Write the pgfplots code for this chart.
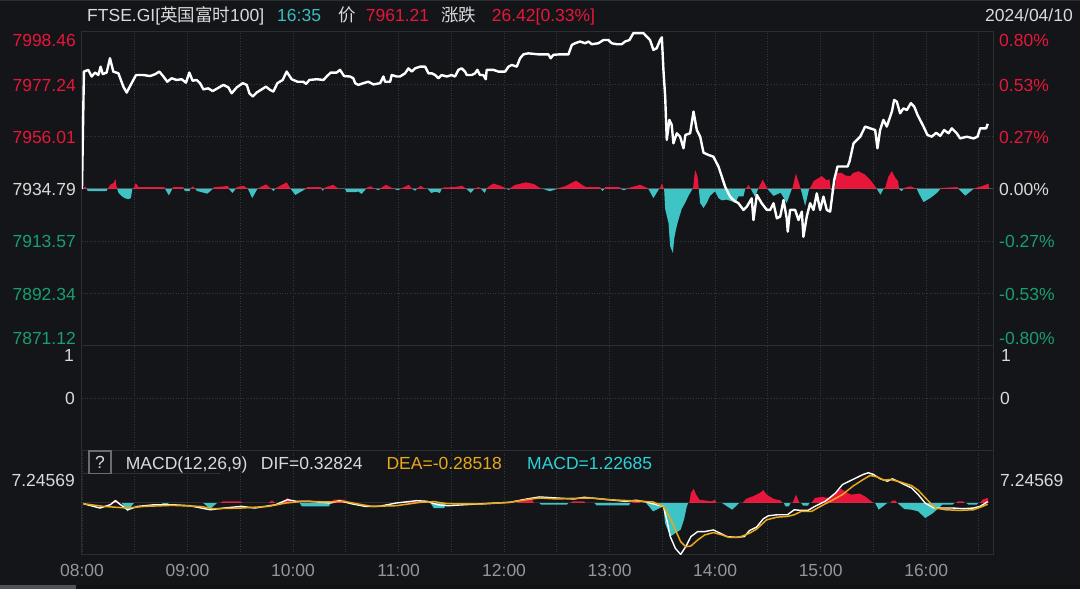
\documentclass[border=0pt]{standalone}
\usepackage{pgfplots}
\pgfplotsset{compat=1.18}
\usepackage{pgfplotstable}
\usepackage{fontspec}
\setmainfont{Liberation Sans}
\newfontfamily\cjk{Noto Sans CJK SC}

\definecolor{bg}{RGB}{19,21,25}
\definecolor{frame}{RGB}{42,45,50}
\definecolor{gridc}{RGB}{52,55,61}
\definecolor{zeroc}{RGB}{72,76,82}
\definecolor{hred}{RGB}{232,22,58}
\definecolor{hgreen}{RGB}{24,158,112}
\definecolor{hteal}{RGB}{62,196,196}
\definecolor{tealtxt}{RGB}{58,190,190}
\definecolor{cyantxt}{RGB}{40,212,215}
\definecolor{deac}{RGB}{232,168,24}
\definecolor{ltxt}{RGB}{218,218,218}
\definecolor{xlab}{RGB}{150,150,152}
\definecolor{qbox}{RGB}{105,108,114}

\newcommand\lab{\fontsize{17.5pt}{20pt}\selectfont}

% minutes since 08:00, index level
\pgfplotstableread{
m p
0 7934.79
1.1 7982.4
3.6 7983.1
5.5 7980.4
7.4 7982.0
9.3 7981.0
10.6 7984.4
11.8 7981.4
14.0 7982.0
15.9 7987.8
17.8 7982.4
20.7 7981.7
23.5 7976.3
25.4 7973.9
27.7 7977.0
30.7 7981.0
34.9 7981.0
38.7 7980.6
41.5 7981.3
44.0 7982.4
46.3 7980.4
48.5 7978.3
51.0 7979.7
53.8 7979.0
56.7 7979.3
59.1 7977.9
61.0 7982.0
62.9 7978.7
65.2 7979.0
67.1 7977.7
69.0 7975.2
71.8 7975.6
74.3 7974.5
77.0 7975.6
80.4 7977.0
83.2 7976.0
85.1 7973.6
88.0 7976.0
91.4 7977.7
93.7 7977.0
95.2 7973.6
97.1 7972.3
99.3 7973.9
102.2 7975.2
104.6 7976.3
106.9 7975.0
108.8 7974.3
111.1 7977.7
114.1 7979.0
116.4 7982.4
119.2 7979.3
122.5 7978.3
125.9 7978.3
127.4 7977.4
129.3 7979.0
133.5 7979.3
137.3 7979.0
139.1 7980.4
141.4 7982.0
144.8 7982.0
146.7 7983.1
149.0 7980.6
152.4 7980.4
154.3 7979.7
155.3 7977.7
157.1 7977.0
160.0 7977.7
162.8 7978.3
165.7 7977.2
169.5 7977.7
171.4 7980.4
172.3 7978.3
175.2 7978.3
176.1 7981.0
179.0 7980.4
180.8 7980.4
183.7 7981.7
185.6 7983.7
187.5 7982.4
189.4 7983.7
192.2 7984.4
195.1 7984.4
197.0 7981.7
198.9 7981.7
200.8 7981.0
202.6 7979.7
204.5 7981.0
207.4 7980.4
210.2 7981.0
212.1 7980.4
214.0 7983.1
215.9 7983.7
217.8 7982.4
218.8 7981.0
221.6 7981.0
223.5 7981.7
224.8 7983.1
226.3 7981.0
228.2 7981.0
229.6 7979.3
230.1 7983.1
233.9 7983.1
236.8 7982.4
240.6 7982.4
242.5 7984.4
244.4 7985.1
247.2 7984.4
249.1 7987.8
251.0 7989.4
253.8 7989.8
259.5 7989.4
265.2 7989.4
266.5 7987.8
268.0 7989.2
271.8 7989.4
276.6 7989.4
278.5 7993.2
280.4 7993.9
283.2 7994.6
286.1 7993.9
288.0 7994.6
289.8 7993.5
293.6 7993.9
296.5 7995.2
299.3 7995.2
301.2 7993.9
304.1 7993.5
306.9 7993.5
308.8 7994.6
311.3 7995.2
313.5 7998.0
319.2 7998.0
321.1 7996.6
323.0 7995.2
324.9 7991.2
326.8 7991.9
328.7 7995.2
329.7 7996.3
330.6 7983.1
331.6 7972.3
332.5 7954.7
334.0 7962.8
335.3 7960.8
336.3 7953.3
338.2 7957.4
340.1 7956.0
342.0 7951.3
343.1 7956.7
345.8 7957.4
347.7 7966.2
349.6 7958.7
351.5 7956.0
353.4 7949.5
356.2 7948.6
359.0 7947.9
361.9 7943.9
363.8 7939.8
365.7 7935.7
368.5 7931.7
370.4 7930.3
373.3 7929.0
376.1 7926.3
378.0 7927.6
380.8 7931.0
381.8 7922.2
383.7 7932.4
386.5 7929.0
389.4 7926.3
391.3 7926.3
393.2 7929.0
395.1 7922.9
397.0 7923.6
398.9 7930.3
400.7 7922.9
401.3 7917.5
402.6 7926.3
405.5 7926.3
407.4 7922.2
409.3 7925.6
410.2 7915.4
412.1 7923.6
414.0 7929.0
415.9 7926.3
417.8 7933.0
419.7 7926.3
421.6 7931.7
423.5 7926.3
425.4 7925.6
426.5 7931.7
427.7 7938.4
429.6 7943.9
432.0 7943.9
435.3 7943.9
436.4 7945.9
438.7 7953.3
442.5 7956.0
445.3 7960.1
448.1 7959.4
451.0 7958.7
452.3 7951.3
453.8 7958.7
455.7 7962.8
457.6 7960.1
459.5 7964.1
460.5 7966.2
461.8 7970.9
463.3 7970.2
465.2 7965.5
467.1 7967.5
469.0 7966.8
471.3 7969.6
473.2 7968.2
475.1 7964.8
478.5 7960.1
480.7 7956.7
483.2 7956.0
485.7 7957.6
488.0 7956.3
490.2 7958.7
492.7 7957.4
494.6 7959.4
497.4 7957.4
499.3 7955.3
503.1 7956.0
506.9 7955.3
509.2 7956.0
510.7 7959.4
514.1 7959.4
515.0 7961.21
}\price

% per-minute change bars, index points above/below 7934.79
\pgfplotstableread{
m h
0 0
0.8 0
1.8 1.1
2.8 0
3.2 -0.8
8 -0.9
14 -0.8
14.5 0
16.5 2.0
18.0 2.4
19.0 4.1
19.6 1.2
20.0 0
20.8 -1.6
22.4 -2.8
24.3 -3.7
26.3 -4.1
27.8 -3.7
28.6 0
29.2 0
30.6 2.4
32.1 0.8
46.8 0.8
47.3 0
49.4 -2.6
51.3 0
51.7 0.8
57.6 0.8
58.0 0
58.6 -0.9
61.2 -0.9
61.5 0
63.0 1.1
64.5 0
65.4 -0.8
71.3 -1.9
74.3 0
75.2 0.8
80.0 1.0
83.1 1.3
83.6 0
85.5 -1.6
87.4 0
88.0 0.8
92.0 1.3
94.4 0
96.8 -3.7
99.7 0
100.7 0.5
104.6 1.9
107.7 0
108.9 -0.9
109.7 0
110.5 0.5
113.5 1.6
116.4 2.7
118.7 0
121.3 -2.4
124.2 -1.2
127.1 0
128.1 0.8
136.0 0.8
136.3 0
136.9 -0.8
137.5 0
137.9 0.5
142.8 1.7
146.1 0
149.6 0
150.5 -1.3
155.5 -1.3
157.1 -1.0
159.0 -2.0
161.4 0
161.8 0.5
164 1.1
166.9 0
168.5 -0.5
169.6 0
170.2 0.5
172.8 1.7
177.5 0
179.8 -0.5
181 0
182 0.4
185.9 1.7
187.8 0
189.4 -0.7
190.4 0
190.8 0.4
192.7 1.3
195.1 0
196.6 0
198.6 -1.6
201 -1.1
203.5 -1.6
204.5 0
205.5 0.6
212 0.8
216.2 1.3
218.6 0
221.1 -1.6
223.1 0
224.1 0.4
225.5 0.8
227 0
229 -1.6
230 0
230.9 0.8
233.9 2.2
238 1.3
241.7 0
242.7 -0.4
243.3 0
243.7 0.4
246 1.6
252.5 2.7
257 2.0
261.3 0
262.3 0
266 -0.9
270.1 0
271.1 0.4
275 1.2
280.9 3.4
284.5 1.6
286.7 0.8
294.6 0.8
295 0
296 -0.8
297 0
297.5 0.8
306 0.8
306.3 0
308 -0.5
309.8 0
310.7 0.4
317.3 1.7
321.5 0.4
322.1 0
324.9 -3.7
328.1 0
328.7 0.4
329.7 2.2
331.0 0
331.6 -8.1
333.5 -13.8
334.4 -23.1
336.0 -26.0
336.7 -20.3
337.8 -16.2
339.1 -12.6
341.0 -8.1
342.9 -5.7
344.8 -2.8
346.7 -0.5
347.1 0
347.5 0.5
348.6 7.8
350.0 5.0
350.7 0
351.5 -5.7
353.4 -7.7
355.2 -5.7
357.1 -2.8
360.0 -0.9
361.9 -3.7
363.8 -4.6
366.6 -4.3
369.5 -5.0
371.4 -5.7
373.3 -3.0
376.1 -3.0
377.1 0
378 0.5
379 1.7
380.3 0
382.7 -3.2
384.4 0
384.6 0.3
387.1 3.8
389.8 0
393.2 -2.8
397.3 -1.5
400.7 -5.7
403.6 0
404 0.4
405.9 6.2
408.7 0
411.2 -6.9
413.4 0
414 0.4
416.0 3.2
420.6 5.2
423.5 3.5
425 4.0
425.8 0
427 -1.1
428.0 0
428.2 1.0
429.2 6.5
432.0 6.5
434 5.5
436.8 5.2
438.5 6.5
441.5 7.2
445.3 5.8
448.1 3.8
451.0 1.1
452.0 0
454.0 -2.3
455.7 0
456.7 0.5
458.5 5.0
460.5 7.2
462.5 4.5
464.0 3.2
464.6 0
466 -0.9
467.1 0
467.5 0.4
471 1.1
474.7 0
476 -2.0
478.5 -5.3
482.3 -3.7
486.1 -1.6
488.0 0
488.3 0.4
497.8 0.8
498.4 0
502.2 -2.7
506.9 0
507.9 0.4
512 1.2
515.4 2.2
515.8 0
}\hist

\pgfplotstableread{
m v
0.8 -0.17
10.2 -1.21
16.1 -0.41
19.0 0.56
21.9 -0.41
25.9 -1.62
31.7 -0.81
41.5 -0.41
51.3 -0.41
61.1 -0.65
72.9 -1.62
80.7 -1.21
90.5 -0.81
98.3 -1.21
110.1 -0.41
116.9 0.80
121.8 0.40
129.6 0.40
141.4 -0.01
146.3 0.56
153.1 -0.17
161.0 -0.81
168.8 -0.81
178.6 -0.01
190.4 0.56
196.2 0.40
202.1 -0.41
208.0 -0.65
227.6 -0.17
243.2 0.16
253.0 0.96
260.1 1.45
269.9 1.20
279.7 0.96
285.5 1.37
299.2 0.80
309.0 0.40
314.9 0.64
320.8 0.24
326.6 -0.41
330.6 -0.81
332.5 -4.03
334.5 -8.06
337.4 -10.87
340.4 -12.32
343.3 -10.47
346.2 -8.06
350.1 -6.85
354.1 -6.85
359.0 -6.45
362.9 -7.25
366.8 -8.06
371.7 -8.22
376.6 -8.06
379.5 -6.61
383.5 -5.80
387.4 -3.79
390.3 -3.06
395.2 -2.82
401.1 -2.82
405.0 -1.62
408.9 -1.78
412.8 -1.78
416.7 -0.81
422.6 0.40
428.5 2.41
432.4 4.42
438.3 5.63
444.2 6.84
447.1 7.25
450.0 6.84
453.9 5.79
457.9 5.23
460.8 5.79
463.7 5.23
467.6 4.42
471.6 3.62
475.5 2.01
479.4 -0.01
484.3 -1.21
489.2 -1.21
495.1 -1.21
500.9 -1.37
506.8 -1.21
510.7 -0.81
515.0 0.33
}\dif

\pgfplotstableread{
m v
0.8 -0.17
12.1 -0.81
25.9 -1.21
35.6 -0.81
51.3 -0.57
67.0 -0.81
74.8 -1.37
90.5 -1.21
106.1 -0.81
115.9 -0.01
125.7 0.40
141.4 0.24
149.2 0.40
157.1 -0.25
164.9 -0.81
178.6 -0.65
192.3 0.16
200.1 0.32
208.0 -0.17
227.6 -0.25
243.2 0.16
253.0 0.80
260.1 1.20
269.9 0.96
279.7 1.12
289.4 1.20
299.2 0.80
311.0 0.56
318.8 0.40
324.7 0.24
330.6 -0.81
334.5 -3.63
337.4 -6.45
340.4 -9.26
343.3 -10.47
346.2 -10.31
350.1 -8.86
354.1 -7.65
359.0 -7.09
363.9 -7.65
367.8 -8.22
373.7 -8.22
379.5 -7.25
383.5 -6.28
389.3 -4.03
395.2 -3.39
401.1 -3.22
405.0 -2.82
408.9 -2.02
414.8 -2.02
420.6 -0.65
426.5 0.64
432.4 2.01
438.3 4.02
444.2 5.63
448.1 6.60
452.0 6.27
455.9 5.47
459.8 5.63
465.7 4.99
471.6 4.18
475.5 3.05
481.4 0.40
485.3 -1.21
491.2 -1.62
499.0 -1.78
506.8 -1.62
510.7 -1.05
515.0 -0.29
}\dea

\pgfplotstableread{
m h
0 0
16.5 0
19.0 0.8
21.5 0
22.5 0
25.9 -2.0
29.5 0
45.4 0
47 -0.8
49.4 0
68.9 0
72.9 -1.4
76.8 0
78.7 0
80 0.4
90.5 0.4
91 0
106 0
108 0.6
110 0
113.5 0
116.9 1.2
120 0
123.8 0
125 -0.8
140.5 -0.8
141.2 0
141.6 0
143 0.8
149.2 0.8
150 0
182.5 0
184 0.4
194.3 0.4
195 0
198.2 0
200 -1.2
206 -1.2
207 0
247.1 0
249 0.8
256 0.8
257 0
260.1 0
261 -0.4
275.7 -0.4
276.5 0
277.7 0
279 0.4
285.5 0.4
286.3 0
291.4 0
292.5 -0.56
311 -0.56
311.8 0
312.9 0
314 0.8
316.9 0.8
317.5 0
320.8 0
324.7 -2.0
330.6 -0.8
331.5 -4.8
334.5 -8.05
337.4 -7.2
340.4 -6.4
342.3 -4.0
343.9 -0.8
344.7 0
345.3 0
346.2 2.4
347.8 3.4
349.2 2.0
351.1 0.8
358 0.4
359.9 0.8
360.8 0
363.9 0
369.7 -1.6
373.7 0
375.6 0
377.6 1.0
381.5 1.6
385.4 2.4
387.4 3.1
389.3 2.0
393.2 1.0
397.2 0.6
398.2 0
399.1 0
400 -0.8
402 -0.8
402.8 0
404 0
406 2.0
407.9 0
408.9 0
410 -0.6
412.8 -0.6
413.6 0
414.8 0
416.7 1.2
420.6 1.45
424.6 1.2
427.5 2.0
431.4 3.4
434.4 2.6
437.3 2.0
442.2 2.25
445.1 1.6
448.1 0.64
450 0
451 0
453 -1.6
457.9 0
459.8 0
460.5 0.56
462.8 0.56
463.3 0
463.7 0
467.6 -1.45
471.6 -1.6
475.5 -2.0
479.4 -3.6
483.3 -2.6
487.2 -1.2
489.2 -0.4
495 -0.4
496 0
497 0
498 0.4
501 0.4
502 0
502.9 0
504 -0.4
508.8 -0.4
509.5 0
510.7 0
512 0.8
515 1.23
515.5 0
}\mhist

\pgfplotsset{
  panel/.style={
    scale only axis, width=911pt, anchor=south west,
    xmin=0, xmax=518,
    axis line style={draw=frame, line width=1pt},
    xtick={30,60,...,510}, xticklabels={},
    yticklabels={},
    xmajorgrids, ymajorgrids,
    major grid style={draw=gridc, line width=0.9pt, dash pattern=on 1pt off 1.6pt},
    tick style={draw=none},
  },
}

\begin{document}
\begin{tikzpicture}[x=1pt,y=1pt]
\fill[bg] (0,0) rectangle (1080,589);
\useasboundingbox (0,0) rectangle (1080,589);
\draw[frame, line width=1pt] (0,588.5) -- (1080,588.5);
\fill[black!20!bg] (0,0) rectangle (1080,4);
\fill[qbox!70!bg] (0,0) rectangle (76,4);

% price panel
\begin{axis}[panel, at={(82pt,243pt)}, height=314pt,
  ymin=7871.12, ymax=7998.46,
  ytick={7892.34,7913.57,7956.01,7977.24},
  extra y ticks={7934.79}, extra y tick labels={},
  extra y tick style={major grid style={solid, draw=zeroc, line width=1pt}},
]
\addplot[fill=hred, draw=none] table[x=m, y expr={7934.79+max(\thisrow{h},0)}] {\hist};
\addplot[fill=hteal, draw=none] table[x=m, y expr={7934.79+min(\thisrow{h},0)}] {\hist};
\addplot[white, line width=2.4pt, line join=round] table[x=m, y=p] {\price};
\end{axis}

% empty middle panel
\begin{axis}[panel, at={(82pt,138pt)}, height=105pt,
  ymin=-1, ymax=1, ytick={0},
]
\end{axis}

% MACD panel
\begin{axis}[panel, at={(82pt,34pt)}, height=104pt,
  ymin=-12.46, ymax=12.46, ytick=\empty,
  xtick={0,30,...,510},
  xticklabels={08:00,,09:00,,10:00,,11:00,,12:00,,13:00,,14:00,,15:00,,16:00,},
  xticklabel style={text=xlab, font=\lab, anchor=center, yshift=-15pt},
]
\addplot[fill=hred, draw=none] table[x=m, y expr={max(\thisrow{h},0)}] {\mhist};
\addplot[fill=hteal, draw=none] table[x=m, y expr={min(\thisrow{h},0)}] {\mhist};
\addplot[white, line width=1.4pt, line join=round] table[x=m, y=v] {\dif};
\addplot[deac, line width=1.5pt, line join=round] table[x=m, y=v] {\dea};
\end{axis}

% header
\begin{scope}[every node/.style={inner sep=0pt, font=\lab}]
\node[anchor=base west, text=ltxt] at (87,567.3) {FTSE.GI[{\cjk 英国富时}100]};
\node[anchor=base west, text=tealtxt] at (277,567.3) {16:35};
\node[anchor=base west, text=ltxt] at (338.5,567.3) {\cjk 价};
\node[anchor=base west, text=hred] at (365.7,567.3) {7961.21};
\node[anchor=base west, text=ltxt] at (440.8,567.3) {\cjk 涨跌};
\node[anchor=base west, text=hred] at (491.7,567.3) {26.42[0.33\%]};
\node[anchor=base east, text=ltxt] at (1073,567.3) {2024/04/10};

% left scale
\node[anchor=base east, text=hred] at (76,542.8) {7998.46};
\node[anchor=base east, text=hred] at (76,497.8) {7977.24};
\node[anchor=base east, text=hred] at (76,445.3) {7956.01};
\node[anchor=base east, text=ltxt] at (76,393.8) {7934.79};
\node[anchor=base east, text=hgreen] at (76,341.1) {7913.57};
\node[anchor=base east, text=hgreen] at (76,288.8) {7892.34};
\node[anchor=base east, text=hgreen] at (76,244.3) {7871.12};
\node[anchor=base east, text=ltxt] at (74,227.3) {1};
\node[anchor=base east, text=ltxt] at (75,184.3) {0};
\node[anchor=base east, text=ltxt] at (75,102.8) {7.24569};

% right scale
\node[anchor=base west, text=hred] at (999,542.8) {0.80\%};
\node[anchor=base west, text=hred] at (999,497.8) {0.53\%};
\node[anchor=base west, text=hred] at (999,445.3) {0.27\%};
\node[anchor=base west, text=ltxt] at (999,393.8) {0.00\%};
\node[anchor=base west, text=hgreen] at (999,341.1) {-0.27\%};
\node[anchor=base west, text=hgreen] at (999,288.8) {-0.53\%};
\node[anchor=base west, text=hgreen] at (999,244.3) {-0.80\%};
\node[anchor=base west, text=ltxt] at (1001,227.3) {1};
\node[anchor=base west, text=ltxt] at (1000,184.3) {0};
\node[anchor=base west, text=ltxt] at (1000,102.8) {7.24569};

% MACD legend
\draw[frame!70!gridc, line width=1pt] (82,115.7) -- (220,115.7);
\draw[qbox, line width=1.2pt, fill=bg] (89,115.7) rectangle (111,138);
\node[anchor=center, text=ltxt] at (100,127) {?};
\node[anchor=base west, text=ltxt] at (125.7,119.5) {MACD(12,26,9)};
\node[anchor=base west, text=ltxt] at (260.7,119.5) {DIF=0.32824};
\node[anchor=base west, text=deac] at (386.4,119.5) {DEA=-0.28518};
\node[anchor=base west, text=cyantxt] at (527,119.5) {MACD=1.22685};
\end{scope}
\end{tikzpicture}
\end{document}
